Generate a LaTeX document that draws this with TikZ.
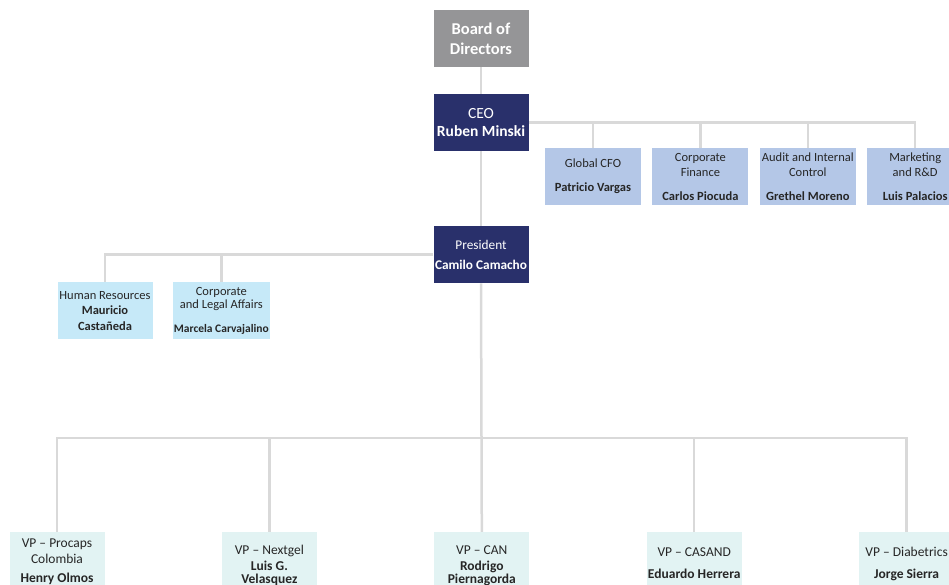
\documentclass[tikz,border=0pt]{standalone}
\usepackage{fontspec}
\setmainfont{Carlito}
\usetikzlibrary{positioning,backgrounds}
\definecolor{orggray}{HTML}{959597}
\definecolor{orgnavy}{HTML}{29306B}
\definecolor{orgblue}{HTML}{B4C7E7}
\definecolor{orgcyan}{HTML}{C6E9F8}
\definecolor{orgmint}{HTML}{E2F3F3}
\definecolor{orgline}{HTML}{D9D9D9}
\tikzset{
  link/.style={draw=orgline, line width=2.5pt},
  unit/.style={anchor=north, minimum width=95pt, minimum height=57pt,
    align=center, inner sep=1pt},
  boardbox/.style={unit, fill=orggray, text=white,
    font=\fontsize{16.5}{20}\selectfont\bfseries},
  execbox/.style={unit, fill=orgnavy, text=white,
    font=\fontsize{15.5}{18}\selectfont},
  staffbox/.style={unit, minimum width=96pt, fill=orgblue, text=black!85,
    font=\fontsize{12.5}{15}\selectfont},
  supportbox/.style={unit, fill=orgcyan, text=black!85,
    font=\fontsize{12.5}{15.5}\selectfont},
  vpbox/.style={unit, minimum height=67pt, fill=orgmint, text=black!85,
    font=\fontsize{13.5}{16}\selectfont}
}
\begin{document}
\begin{tikzpicture}[x=1pt, y=-1pt]
  \useasboundingbox (0,0) rectangle (949,585);
  % top of the chart
  \node[boardbox] (board) at (481,10) {Board of\\Directors};
  \node[execbox] (ceo) at (481,94) {CEO\\\textbf{Ruben Minski}};
  \node[execbox, font=\fontsize{13.3}{20}\selectfont] (pres) at (481,226) {President\\\textbf{Camilo Camacho}};
  % staff reporting to the CEO
  \node[staffbox] (cfo) at (593,148) {Global CFO\\[9pt]\textbf{Patricio Vargas}};
  \node[staffbox, right=11pt of cfo] (fin) {Corporate\\Finance\\[9pt]\textbf{Carlos Piocuda}};
  \node[staffbox, right=11pt of fin] (audit) {Audit and Internal\\Control\\[9pt]\textbf{Grethel Moreno}};
  \node[staffbox, right=11pt of audit] (mkt) {Marketing\\and R\&D\\[9pt]\textbf{Luis Palacios}};
  % support units under the President
  \node[supportbox] (hr) at (105,282) {Human Resources\\\textbf{Mauricio}\\\textbf{Castañeda}};
  \node[supportbox, right=20pt of hr] (legal) {Corporate\\[-2pt]and Legal Affairs\\[8pt]{\fontsize{11.5}{12}\selectfont\textbf{Marcela Carvajalino}}};
  % vice presidents (boxes run past the lower edge)
  \node[vpbox] (procaps) at (57,532) {VP -- Procaps\\Colombia\\[3pt]\textbf{Henry Olmos}\\[-6pt]\mbox{}};
  \node[vpbox, right=117pt of procaps] (nextgel) {VP -- Nextgel\\\textbf{Luis G.}\\[-3pt]\textbf{Velasquez}};
  \node[vpbox, right=117pt of nextgel] (can) {VP -- CAN\\\textbf{Rodrigo}\\[-3pt]\textbf{Piernagorda}};
  \node[vpbox, right=117pt of can] (casand) {VP -- CASAND\\[6pt]\textbf{Eduardo Herrera}\\[-10pt]\mbox{}};
  \node[vpbox, right=117pt of casand] (diab) {VP -- Diabetrics\\[6pt]\textbf{Jorge Sierra}\\[-10pt]\mbox{}};
  \coordinate (bus) at (481,438);
  % connectors
  \begin{scope}[on background layer]
    \draw[link] (board) -- (ceo);
    \draw[link] (ceo) -- (pres);
    \draw[link] (ceo.east) -| (mkt.north);
    \foreach \n in {cfo,fin,audit}
      \draw[link] (\n.north) -- (\n.north |- ceo.east);
    \draw[link] (pres.west) -| (hr.north);
    \draw[link] (legal.north) -- (legal.north |- pres.west);
    \draw[link] (pres.south) -- (can.north);
    \draw[link] (procaps.north) |- (bus) -| (diab.north);
    \foreach \n in {nextgel,casand}
      \draw[link] (\n.north) -- (\n.north |- bus);
  \end{scope}
\end{tikzpicture}
\end{document}
